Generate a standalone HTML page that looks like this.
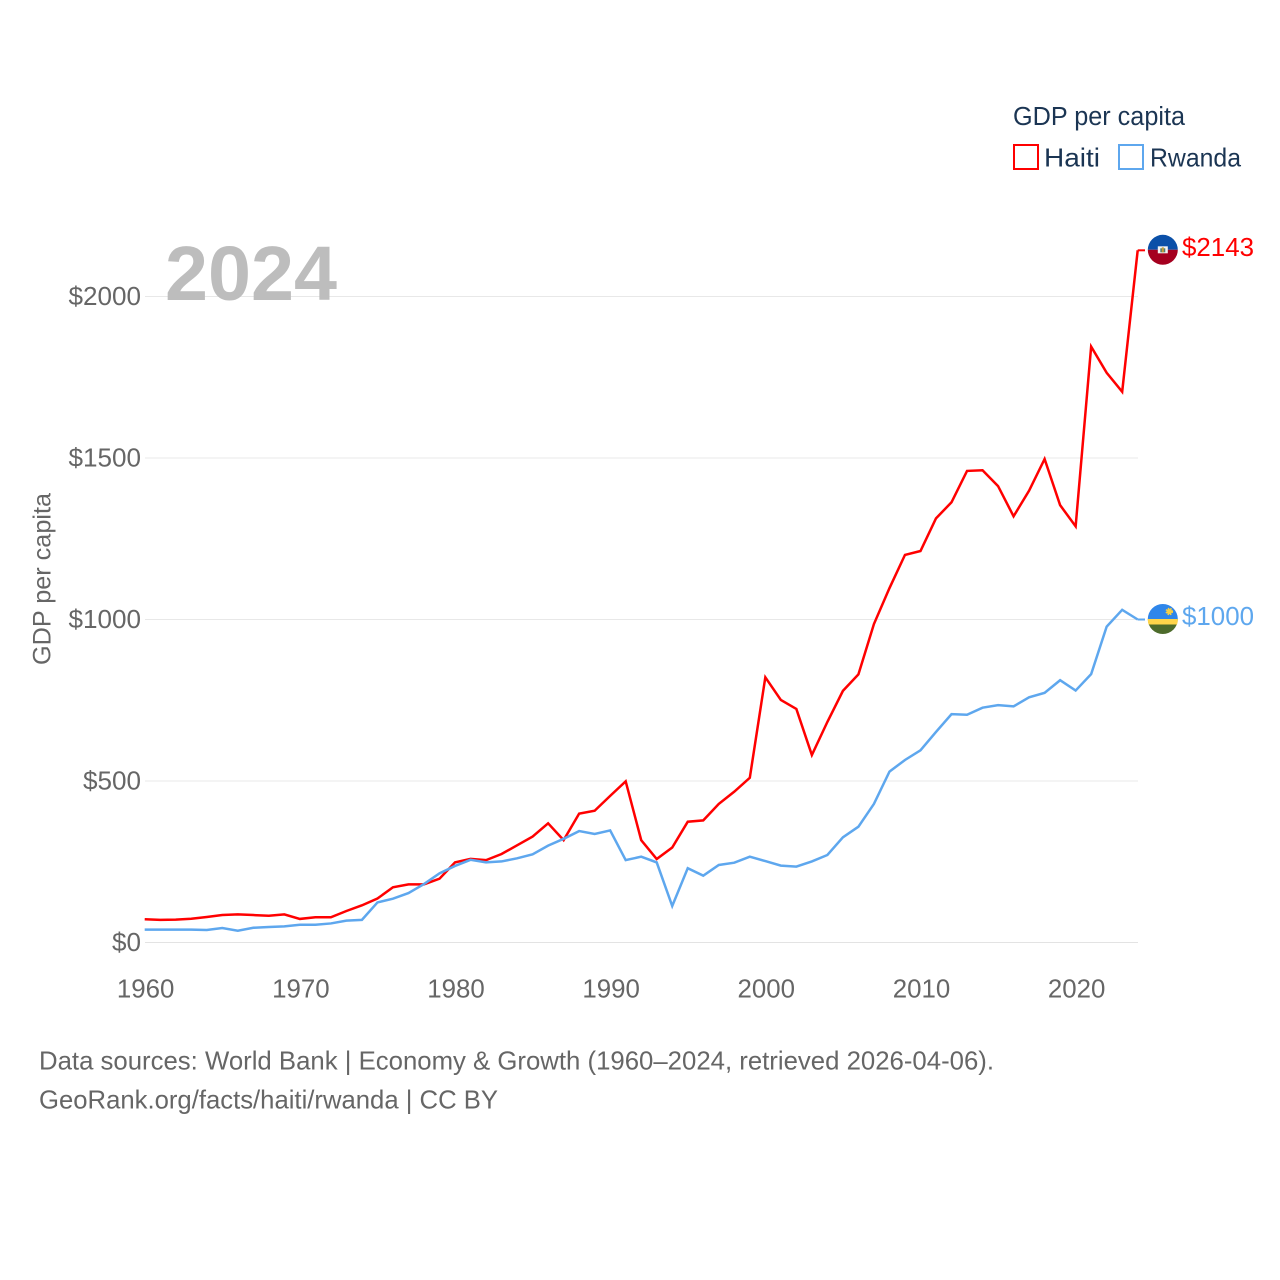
<!DOCTYPE html>
<html lang="en">
<head>
<meta charset="utf-8">
<title>GDP per capita: Haiti and Rwanda</title>
<style>
html,body{margin:0;padding:0;background:#fff;width:1280px;height:1280px;overflow:hidden}
svg{display:block}
text{font-family:"Liberation Sans",sans-serif}
</style>
</head>
<body>
<svg id="chart" xmlns="http://www.w3.org/2000/svg" width="1280" height="1280" viewBox="0 0 1280 1280">
  <rect width="1280" height="1280" fill="#fff"/>
  <g id="grid"></g>
  <text x="165" y="300" font-size="77" font-weight="700" fill="#bdbdbd" textLength="172" lengthAdjust="spacingAndGlyphs">2024</text>
  <g id="y-ticks"></g>
  <g id="x-ticks"></g>
  <text transform="translate(50.5,665) rotate(-90)" font-size="25" fill="#666" textLength="172" lengthAdjust="spacingAndGlyphs">GDP per capita</text>
  <g id="series"></g>
  <g id="ends"></g>
  <g>
    <text x="1013" y="125" font-size="25.5" fill="#1b3553" textLength="172" lengthAdjust="spacingAndGlyphs">GDP per capita</text>
    <rect x="1014" y="145" width="24" height="24" fill="#fff" stroke="#ff0000" stroke-width="2"/>
    <text x="1044" y="166.5" font-size="26" fill="#1b3553" textLength="56" lengthAdjust="spacingAndGlyphs">Haiti</text>
    <rect x="1119" y="145" width="24" height="24" fill="#fff" stroke="#5ea7ee" stroke-width="2"/>
    <text x="1150" y="166.5" font-size="26" fill="#1b3553" textLength="91" lengthAdjust="spacingAndGlyphs">Rwanda</text>
  </g>
  <g>
    <text x="39" y="1069.5" font-size="26" fill="#666" textLength="955" lengthAdjust="spacingAndGlyphs">Data sources: World Bank | Economy &amp; Growth (1960–2024, retrieved 2026-04-06).</text>
    <text x="39" y="1108.5" font-size="26" fill="#666" textLength="459" lengthAdjust="spacingAndGlyphs">GeoRank.org/facts/haiti/rwanda | CC BY</text>
  </g>
</svg>
<script>
const firstYear = 1960;
const xTickYears = [1960, 1970, 1980, 1990, 2000, 2010, 2020];
const yTickValues = [0, 500, 1000, 1500, 2000];
const haitiValues = [72, 70, 71, 73.5, 79, 85, 87, 85, 83, 87, 73, 78, 78, 97.5, 115, 136, 171, 180, 180, 197.5, 248, 259, 255, 274, 301, 328, 369, 317, 399, 408, 454, 499, 317, 258.5, 294, 374, 378, 429, 467, 510, 821, 751, 723, 580.5, 683, 779, 830, 986, 1097, 1200, 1212, 1313, 1363, 1460, 1462, 1413, 1319.5, 1399, 1497, 1354, 1288.5, 1845, 1764, 1705, 2143];
const rwandaValues = [40, 40, 40, 40, 38.7, 45, 36.6, 45.6, 48, 50, 55, 55, 59, 67.6, 70, 124, 135.6, 153, 181, 214, 237, 256, 248, 251, 260.6, 273, 300, 321, 345, 336, 347, 255, 265.6, 248, 113, 230, 207, 240, 247, 265.6, 252, 238, 235, 251, 271, 325.7, 358.6, 429, 529, 565, 595, 652, 707, 705, 727, 735, 731, 759, 773, 812, 780, 831, 978, 1030, 1000];

const svgNS = 'http://www.w3.org/2000/svg';
function x(year) { return 144.7 + (year - 1960) * (1137.7 - 144.7) / 64; }
function y(value) { return 942.5 - value * 0.323; }
function make(tag, attrs, parent, content) {
  const el = document.createElementNS(svgNS, tag);
  for (const k in attrs) el.setAttribute(k, attrs[k]);
  if (content !== undefined) el.textContent = content;
  parent.appendChild(el);
  return el;
}
function money(v) { return '$' + Math.round(v); }

const gridG = document.getElementById('grid');
const yG = document.getElementById('y-ticks');
const xG = document.getElementById('x-ticks');
const seriesG = document.getElementById('series');
const endsG = document.getElementById('ends');

yTickValues.forEach(function (v) {
  const line = make('line', { x1: 145, x2: 1138, y1: y(v), y2: y(v), stroke: v === 0 ? '#e3e3e3' : '#e8e8e8', 'stroke-width': 1 }, gridG);
  
  
  const label = money(v);
  const t = make('text', { x: 141, y: y(v) + 8.5, 'text-anchor': 'end', 'font-size': 25.5, fill: '#666', textLength: label.length * 14.5, lengthAdjust: 'spacingAndGlyphs' }, yG, label);
  
  
});

xTickYears.forEach(function (yr) {
  const t = make('text', { x: x(yr) + 1, y: 997.5, 'text-anchor': 'middle', 'font-size': 25.5, fill: '#666', textLength: 57.5, lengthAdjust: 'spacingAndGlyphs' }, xG, String(yr));
  
  
});

function linePoints(values) {
  return values.map(function (v, i) { return x(firstYear + i).toFixed(2) + ',' + y(v).toFixed(2); }).join(' ');
}

const rwandaLine = make('polyline', { points: linePoints(rwandaValues), fill: 'none', stroke: '#5ea7ee', 'stroke-width': 2.5, 'stroke-linejoin': 'miter' }, seriesG);


const haitiLine = make('polyline', { points: linePoints(haitiValues), fill: 'none', stroke: '#ff0000', 'stroke-width': 2.5, 'stroke-linejoin': 'miter' }, seriesG);


seriesG.insertBefore(haitiLine, rwandaLine);

const lastYear = firstYear + haitiValues.length - 1;

function drawEnd(values, color, drawFlag, flagName, labelName, connectorName) {
  const v = values[values.length - 1];
  const py = y(v);
  const conn = make('line', { x1: x(lastYear), x2: 1145, y1: py, y2: py, stroke: color, 'stroke-width': 2 }, endsG);
  
  
  const flag = make('g', { transform: 'translate(1162.8,' + (py - 0.5) + ')' }, endsG);
  
  
  drawFlag(flag);
  const t = make('text', { x: 1182, y: py + 5.5, 'font-size': 25.5, fill: color, textLength: 72, lengthAdjust: 'spacingAndGlyphs' }, endsG, money(v));
  
  
}

function haitiFlag(g) {
  make('path', { d: 'M-15,0A15,15 0 0 1 15,0Z', fill: '#0b50a8' }, g);
  make('path', { d: 'M-15,0A15,15 0 0 0 15,0Z', fill: '#a5001f' }, g);
  make('rect', { x: -5, y: -3.5, width: 10, height: 7, fill: '#f4f4f4' }, g);
  make('rect', { x: -2.5, y: -1.5, width: 5, height: 4, fill: '#4f7f70' }, g);
  make('rect', { x: -1, y: -2.5, width: 2, height: 5, fill: '#c9a13a' }, g);
}
function rwandaFlag(g) {
  make('path', { d: 'M-15,0A15,15 0 0 1 15,0Z', fill: '#2f86ea' }, g);
  make('path', { d: 'M-15,0A15,15 0 0 0 15,0Z', fill: '#4d6b2b' }, g);
  make('path', { d: 'M-15,0H15A15,15 0 0 1 14.2,5.5H-14.2A15,15 0 0 1 -15,0Z', fill: '#ffd54a' }, g);
  make('circle', { cx: 6.5, cy: -7.5, r: 2.8, fill: '#f7cf45', stroke: '#f7cf45', 'stroke-width': 2, 'stroke-dasharray': '1.3 1' }, g);
}

drawEnd(haitiValues, '#ff0000', haitiFlag, 'haiti-flag', 'haiti-end-value', 'haiti-connector');
drawEnd(rwandaValues, '#5ea7ee', rwandaFlag, 'rwanda-flag', 'rwanda-end-value', 'rwanda-connector');
</script>
</body>
</html>
